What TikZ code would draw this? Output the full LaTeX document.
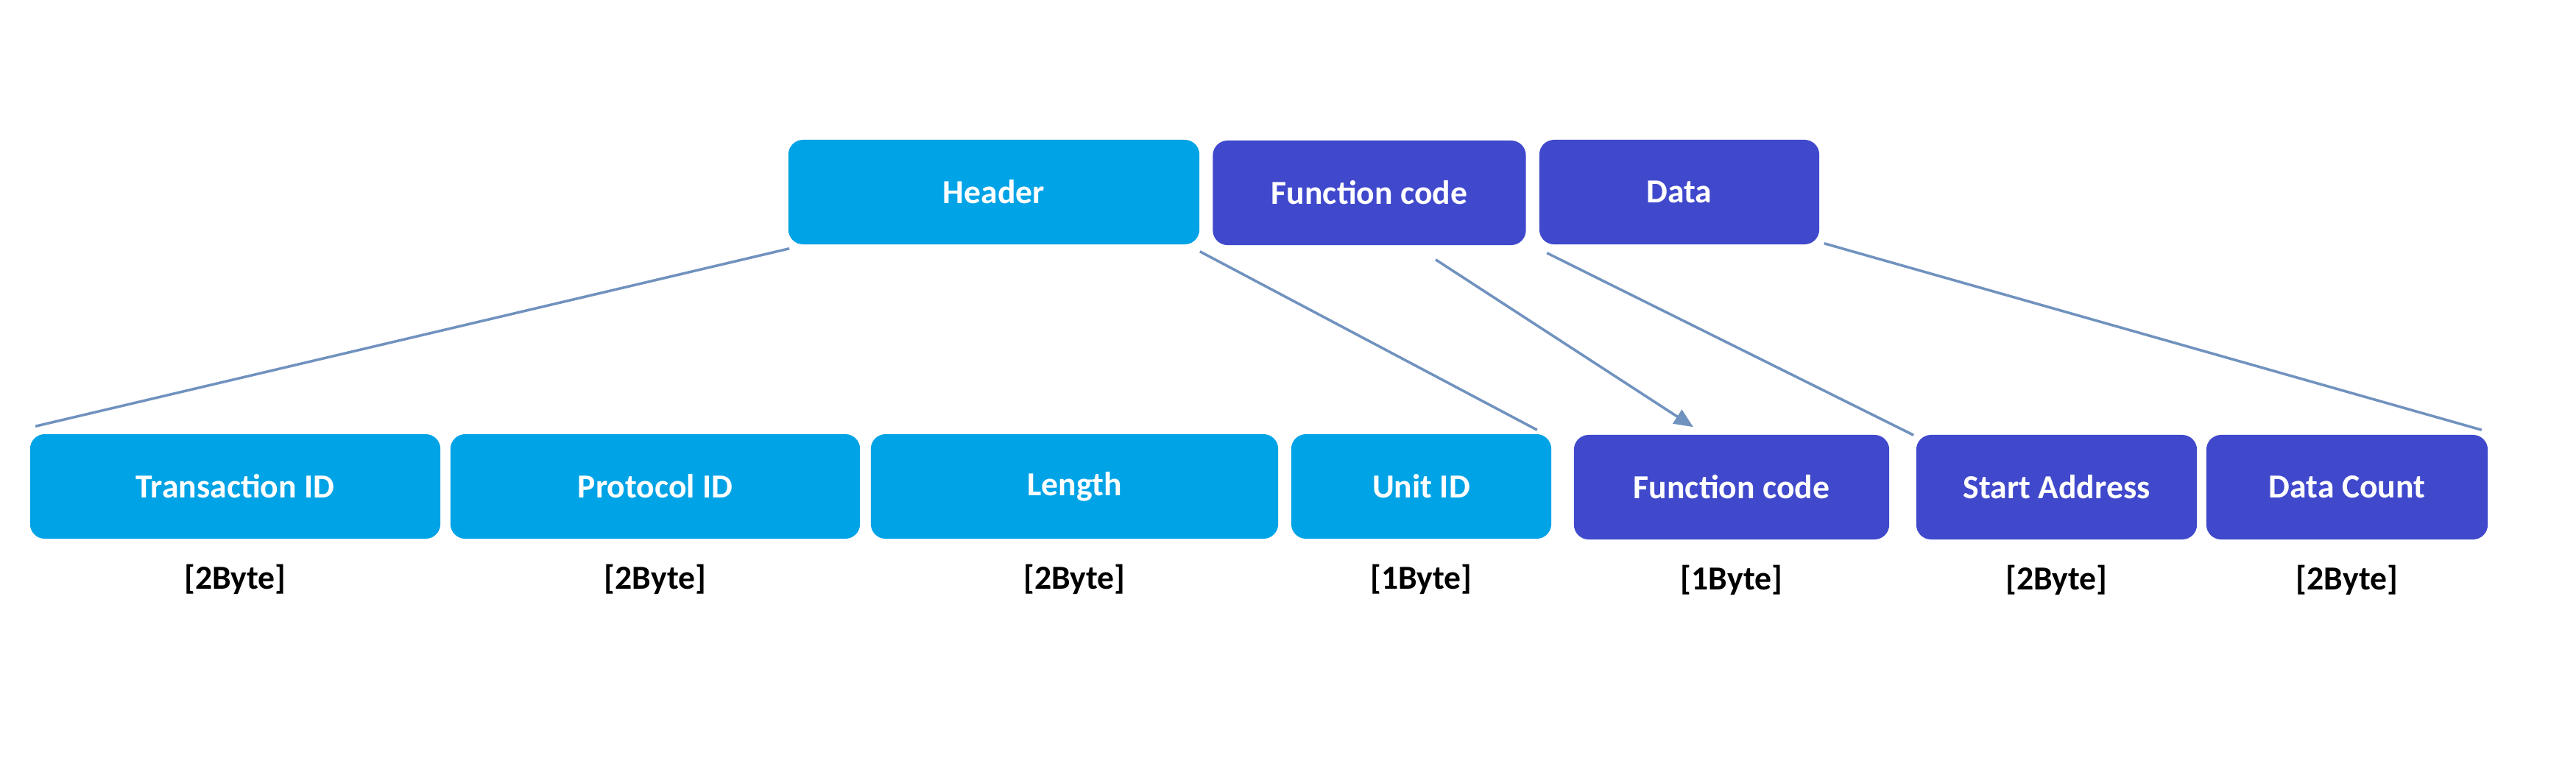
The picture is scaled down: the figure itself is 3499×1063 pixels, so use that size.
\documentclass[tikz,border=0pt]{standalone}
\usepackage{fontspec}
\setmainfont{Carlito}
\usepackage{tikz}
\usetikzlibrary{positioning,arrows.meta}

\definecolor{hdrcyan}{RGB}{0,163,230}
\definecolor{pdublue}{RGB}{64,73,204}
\definecolor{linkblue}{RGB}{112,146,190}

\begin{document}
\begin{tikzpicture}[x=0.01cm, y=-0.01cm,
  field/.style = {shape = rectangle, rounded corners = 2mm, minimum height = 1.42cm, inner sep = 0pt, text = white, font = \bfseries\fontsize{13}{15}\selectfont},
  hdr/.style = {field, fill = hdrcyan},
  pdu/.style = {field, fill = pdublue},
  size/.style = {below = 0.22cm of #1, font = \bfseries\fontsize{13}{15}\selectfont},
  link/.style = {draw = linkblue, line width = 1pt}]
\useasboundingbox (0,0) rectangle (3499,1063);
% frame parts
\node[hdr, minimum width = 5.58cm] (header) at (1350,261) {Header};
\node[pdu, minimum width = 4.25cm] (fcode) at (1860,262) {Function code};
\node[pdu, minimum width = 3.80cm] (data) at (2281,261) {Data};
% fields
\node[hdr, minimum width = 5.57cm] (trans) at (319.5,661) {Transaction ID};
\node[hdr, minimum width = 5.56cm] (proto) at (890,661) {Protocol ID};
\node[hdr, minimum width = 5.53cm] (len) at (1459.5,661) {Length};
\node[hdr, minimum width = 3.53cm] (unit) at (1930.5,661) {Unit ID};
\node[pdu, minimum width = 4.28cm] (func) at (2352,662) {Function code};
\node[pdu, minimum width = 3.81cm] (addr) at (2793.5,662) {Start Address};
\node[pdu, minimum width = 3.82cm] (count) at (3188,662) {Data Count};
% byte sizes
\node[size = trans] (transB) {[2Byte]};
\node[size = proto] (protoB) {[2Byte]};
\node[size = len] (lenB) {[2Byte]};
\node[size = unit] (unitB) {[1Byte]};
\node[size = func] (funcB) {[1Byte]};
\node[size = addr] (addrB) {[2Byte]};
\node[size = count] (countB) {[2Byte]};
% links
\draw[link] ([shift = {(2,5)}]header.south west) -- ([shift = {(8,-10)}]trans.north west);
\draw[link] ([shift = {(0,9)}]header.south east) -- ([shift = {(-20,-5)}]unit.north east);
\draw[link, -{Triangle[length = 0.26cm, width = 0.22cm]}] ([shift = {(90,19)}]fcode.south) -- ([shift = {(-52,-10)}]func.north);
\draw[link] ([shift = {(11,11)}]data.south west) -- ([shift = {(-3,1)}]addr.north west);
\draw[link] ([shift = {(6,-2)}]data.south east) -- ([shift = {(-9,-6)}]count.north east);
\end{tikzpicture}
\end{document}
